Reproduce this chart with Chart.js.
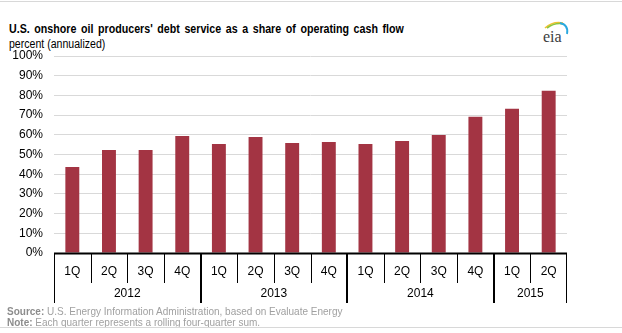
<!DOCTYPE html>
<html>
<head>
<meta charset="utf-8">
<script src="https://cdn.jsdelivr.net/npm/chart.js@4/dist/chart.umd.min.js"></script>
<style>
body{margin:0;background:#fff;font-family:Arial,"Liberation Sans",sans-serif;}
#wrap{position:relative;width:622px;height:333px;overflow:hidden;}
#topline{position:absolute;left:0;top:1px;width:622px;height:1px;background:#d8d8d8;}
#botline{position:absolute;left:0;top:327px;width:622px;height:1px;background:#d8d8d8;}
#title{position:absolute;left:9px;top:21px;font-size:13px;font-weight:bold;color:#000;white-space:nowrap;transform:scaleX(0.82);transform-origin:0 0;word-spacing:2px;}
#sub{position:absolute;left:9px;top:37px;font-size:12px;color:#000;white-space:nowrap;transform:scaleX(0.88);transform-origin:0 0;}
#src{position:absolute;left:7px;top:306px;font-size:11px;color:#a0a0a0;line-height:11px;white-space:nowrap;transform:scaleX(0.91);transform-origin:0 0;}
#src b{font-weight:bold;color:#8c8c8c;}
#logo{position:absolute;left:541px;top:18px;width:30px;height:26px;}
#chart{position:absolute;left:0;top:0;}
</style>
</head>
<body>
<div id="wrap">
<div id="topline"></div>
<div id="title">U.S. onshore oil producers' debt service as a share of operating cash flow</div>
<div id="sub">percent (annualized)</div>
<svg id="logo" viewBox="0 0 30 26">
  <path d="M4 10 Q12 3 22 5" stroke="#f2c12e" stroke-width="1.6" fill="none"/>
  <path d="M6 10 Q14 4 23 6" stroke="#8dc63f" stroke-width="1.6" fill="none"/>
  <path d="M19 5 Q28 7 26 16" stroke="#29a8e0" stroke-width="1.8" fill="none"/>
  <text x="2" y="24" font-family="Liberation Serif, serif" font-size="16" fill="#3c3c3c">eia</text>
</svg>
<canvas id="chart" width="622" height="333"></canvas>
<div id="src"><b>Source:</b> U.S. Energy Information Administration, based on Evaluate Energy<br><b>Note:</b> Each quarter represents a rolling four-quarter sum.</div>
<div id="botline"></div>
</div>
<script>
var quarters = ["1Q","2Q","3Q","4Q","1Q","2Q","3Q","4Q","1Q","2Q","3Q","4Q","1Q","2Q"];
var years = ["2012","2013","2014","2015"];
var yearQuarterCount = [4,4,4,2];
var debtShare = [43.6,52.3,52.3,59.4,55.3,58.9,55.9,56.4,55.3,56.9,59.9,69.1,73.2,82.3];

var yearAxisPlugin = {
	id: "yearAxis",
	afterDraw: function(chart){
		var ctx = chart.ctx;
		var x = chart.scales.x;
		var y0 = chart.chartArea.bottom;
		var w = (x.right - x.left) / quarters.length;
		ctx.save();
		ctx.strokeStyle = "#000";
		ctx.lineWidth = 1;
		// quarter separators
		for (var i=0; i<=quarters.length; i++){
			var px = Math.round(x.getPixelForValue(i) - w/2) + 0.5;
			if (i == quarters.length) px = Math.round(x.getPixelForValue(i-1) + w/2) - 0.5;
			ctx.beginPath();
			ctx.moveTo(px, y0);
			ctx.lineTo(px, y0 + 30);
			ctx.stroke();
		}
		// year separators and labels
		var start = 0;
		ctx.fillStyle = "#000";
		ctx.font = "12px Arial, 'Liberation Sans', sans-serif";
		ctx.textAlign = "center";
		ctx.textBaseline = "middle";
		for (var j=0; j<years.length; j++){
			var end = start + yearQuarterCount[j];
			var a = x.getPixelForValue(start) - w/2;
			var b = x.getPixelForValue(end-1) + w/2;
			[a, b].forEach(function(p, k){
				var pp = k == 0 ? Math.round(p) + 0.5 : Math.round(p) - 0.5;
				ctx.beginPath();
				ctx.moveTo(pp, y0);
				ctx.lineTo(pp, y0 + 50);
				ctx.stroke();
			});
			ctx.fillText(years[j], (a+b)/2, y0 + 41);
			start = end;
		}
		// axis line
		ctx.beginPath();
		ctx.moveTo(x.left, Math.round(y0) + 0.5);
		ctx.lineTo(x.right, Math.round(y0) + 0.5);
		ctx.lineWidth = 2;
		ctx.stroke();
		ctx.restore();
	}
};

new Chart(document.getElementById("chart"), {
	type: "bar",
	data: {
		labels: quarters,
		datasets: [{
			data: debtShare,
			backgroundColor: "#a33443",
			categoryPercentage: 1,
			barPercentage: 0.38
		}]
	},
	options: {
		responsive: false,
		animation: false,
		layout: {padding: {top: 56, right: 55, bottom: 0, left: 0}},
		plugins: {legend: {display: false}, tooltip: {enabled: false}},
		scales: {
			x: {
				grid: {display: false, drawTicks: false},
				border: {display: false},
				ticks: {color: "#000", padding: 11, font: {family: "Arial, 'Liberation Sans', sans-serif", size: 12}},
				afterFit: function(s){ s.height = 80; }
			},
			y: {
				min: 0,
				max: 100,
				grid: {color: "#d9d9d9", drawTicks: false},
				border: {display: false},
				ticks: {
					stepSize: 10,
					color: "#000",
					padding: 11,
					font: {family: "Arial, 'Liberation Sans', sans-serif", size: 12},
					callback: function(v){ return v + "%"; }
				},
				afterFit: function(s){ s.width = 54; }
			}
		}
	},
	plugins: [yearAxisPlugin]
});
</script>
</body>
</html>
